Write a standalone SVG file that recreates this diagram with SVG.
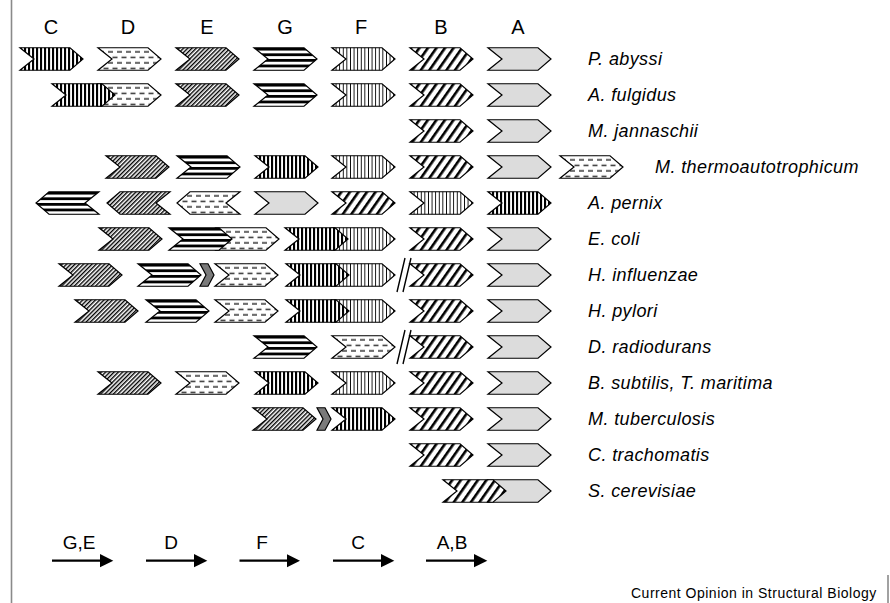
<svg xmlns="http://www.w3.org/2000/svg" xmlns:xlink="http://www.w3.org/1999/xlink" width="890" height="603" viewBox="0 0 890 603">
<style>
.g{stroke:#000;stroke-width:1.2;stroke-linejoin:miter}
.pA{fill:#dcdcdc}
.pB{fill:url(#pB)}
.pC{fill:url(#pC)}
.pD{fill:url(#pD)}
.pE{fill:url(#pE)}
.pF{fill:url(#pF)}
.pG{fill:url(#pG)}
.pS{fill:#7a7a7a}
.hd{font-family:"Liberation Sans",Arial,sans-serif;font-size:20px;text-anchor:middle;fill:#000}
.sp{font-family:"Liberation Sans",Arial,sans-serif;font-size:18px;font-style:italic;letter-spacing:0.4px;fill:#000}
.lg{font-family:"Liberation Sans",Arial,sans-serif;font-size:19px;text-anchor:middle;fill:#000}
.ft{font-family:"Liberation Sans",Arial,sans-serif;font-size:14px;letter-spacing:0.5px;fill:#000}
.brk{stroke:#000;stroke-width:1.4;fill:none}
.arr{stroke:#000;stroke-width:2.2;fill:none;marker-end:url(#ah)}
.frame{stroke:#8a8a8a;stroke-width:1.6;fill:none}
</style>
<defs>
<pattern id="pB" patternUnits="userSpaceOnUse" width="7" height="10" patternTransform="rotate(35)"><rect width="7" height="10" fill="#fff"/><rect width="2.6" height="10" fill="#000"/></pattern>
<pattern id="pC" patternUnits="userSpaceOnUse" width="4" height="10"><rect width="4" height="10" fill="#fff"/><rect width="2.1" height="10" fill="#000"/></pattern>
<pattern id="pD" patternUnits="userSpaceOnUse" width="9" height="11" y="-11.25"><rect width="9" height="11" fill="#fff"/><rect x="1" y="3.4" width="5" height="1.4" fill="#222"/><rect x="5.5" y="8.9" width="5" height="1.4" fill="#222"/><rect x="-3.5" y="8.9" width="5" height="1.4" fill="#222"/></pattern>
<pattern id="pE" patternUnits="userSpaceOnUse" width="3" height="10" patternTransform="rotate(45)"><rect width="3" height="10" fill="#fff"/><rect width="1.4" height="10" fill="#000"/></pattern>
<pattern id="pF" patternUnits="userSpaceOnUse" width="3.6" height="10"><rect width="3.6" height="10" fill="#fff"/><rect width="0.9" height="10" fill="#000"/></pattern>
<pattern id="pG" patternUnits="userSpaceOnUse" width="10" height="5.6" y="-11.25"><rect width="10" height="5.6" fill="#fff"/><rect width="10" height="2.8" fill="#000"/></pattern>
<path id="fwd" d="M0,-11.25 H50 L63,0 L50,11.25 H0 L14,0 Z"/>
<path id="rev" d="M13,-11.25 H63 L49,0 L63,11.25 H13 L0,0 Z"/>
<path id="sml" d="M0,-11.25 H8 L14,0 L8,11.25 H0 L6,0 Z"/>
<marker id="ah" markerUnits="userSpaceOnUse" markerWidth="14" markerHeight="14" refX="3.5" refY="7" orient="auto"><path d="M0,0.3 L13.5,7 L0,13.7 Z" fill="#000"/></marker>
</defs>
<rect width="890" height="603" fill="#fff"/>
<g id="frame"><line class="frame" x1="11.5" y1="0" x2="11.5" y2="603"/><line class="frame" x1="888" y1="575" x2="888" y2="603"/></g>
<g id="headers">
<text class="hd" x="51" y="34">C</text><text class="hd" x="128" y="34">D</text><text class="hd" x="207" y="34">E</text><text class="hd" x="285" y="34">G</text><text class="hd" x="361" y="34">F</text><text class="hd" x="441" y="34">B</text><text class="hd" x="518" y="34">A</text>
</g>
<g id="row1">
<use id="r1C" class="g pC" href="#fwd" x="20" y="59"/><use id="r1D" class="g pD" href="#fwd" x="98" y="59"/><use id="r1E" class="g pE" href="#fwd" x="176" y="59"/><use id="r1G" class="g pG" href="#fwd" x="254" y="59"/><use id="r1F" class="g pF" href="#fwd" x="332" y="59"/><use id="r1B" class="g pB" href="#fwd" x="410" y="59"/><use id="r1A" class="g pA" href="#fwd" x="488" y="59"/>
<text class="sp" x="588" y="65">P. abyssi</text></g>
<g id="row2">
<use id="r2D" class="g pD" href="#fwd" x="98" y="95"/><use id="r2C" class="g pC" href="#fwd" x="52" y="95"/><use id="r2E" class="g pE" href="#fwd" x="176" y="95"/><use id="r2G" class="g pG" href="#fwd" x="254" y="95"/><use id="r2F" class="g pF" href="#fwd" x="332" y="95"/><use id="r2B" class="g pB" href="#fwd" x="410" y="95"/><use id="r2A" class="g pA" href="#fwd" x="488" y="95"/>
<text class="sp" x="588" y="101">A. fulgidus</text></g>
<g id="row3">
<use id="r3B" class="g pB" href="#fwd" x="410" y="131"/><use id="r3A" class="g pA" href="#fwd" x="488" y="131"/>
<text class="sp" x="588" y="137">M. jannaschii</text></g>
<g id="row4">
<use id="r4E" class="g pE" href="#fwd" x="106" y="167"/><use id="r4G" class="g pG" href="#fwd" x="177" y="167"/><use id="r4C" class="g pC" href="#fwd" x="255" y="167"/><use id="r4F" class="g pF" href="#fwd" x="332" y="167"/><use id="r4B" class="g pB" href="#fwd" x="410" y="167"/><use id="r4A" class="g pA" href="#fwd" x="488" y="167"/><use id="r4D" class="g pD" href="#fwd" x="560" y="167"/>
<text class="sp" x="655" y="173">M. thermoautotrophicum</text></g>
<g id="row5">
<use id="r5G" class="g pG" href="#rev" x="36" y="203"/><use id="r5E" class="g pE" href="#rev" x="107" y="203"/><use id="r5D" class="g pD" href="#rev" x="177" y="203"/><use id="r5A" class="g pA" href="#fwd" x="255" y="203"/><use id="r5B" class="g pB" href="#fwd" x="332" y="203"/><use id="r5F" class="g pF" href="#fwd" x="410" y="203"/><use id="r5C" class="g pC" href="#fwd" x="488" y="203"/>
<text class="sp" x="588" y="209">A. pernix</text></g>
<g id="row6">
<use id="r6E" class="g pE" href="#fwd" x="99" y="239"/><use id="r6D" class="g pD" href="#fwd" x="216" y="239"/><use id="r6G" class="g pG" href="#fwd" x="169" y="239"/><use id="r6F" class="g pF" href="#fwd" x="332" y="239"/><use id="r6C" class="g pC" href="#fwd" x="285" y="239"/><use id="r6B" class="g pB" href="#fwd" x="410" y="239"/><use id="r6A" class="g pA" href="#fwd" x="488" y="239"/>
<text class="sp" x="588" y="245">E. coli</text></g>
<g id="row7">
<use id="r7E" class="g pE" href="#fwd" x="59" y="275"/><use id="r7G" class="g pG" href="#fwd" x="138" y="275"/><use id="r7S" class="g pS" href="#sml" x="200" y="275"/><use id="r7D" class="g pD" href="#fwd" x="215" y="275"/><use id="r7F" class="g pF" href="#fwd" x="332" y="275"/><use id="r7C" class="g pC" href="#fwd" x="286" y="275"/><use id="r7B" class="g pB" href="#fwd" x="410" y="275"/><use id="r7A" class="g pA" href="#fwd" x="488" y="275"/>
<path class="brk" d="M397,292 L405,258 M403,292 L411,258"/>
<text class="sp" x="588" y="281">H. influenzae</text></g>
<g id="row8">
<use id="r8E" class="g pE" href="#fwd" x="75" y="311"/><use id="r8G" class="g pG" href="#fwd" x="146" y="311"/><use id="r8D" class="g pD" href="#fwd" x="215" y="311"/><use id="r8F" class="g pF" href="#fwd" x="332" y="311"/><use id="r8C" class="g pC" href="#fwd" x="286" y="311"/><use id="r8B" class="g pB" href="#fwd" x="410" y="311"/><use id="r8A" class="g pA" href="#fwd" x="488" y="311"/>
<text class="sp" x="588" y="317">H. pylori</text></g>
<g id="row9">
<use id="r9G" class="g pG" href="#fwd" x="254" y="347"/><use id="r9D" class="g pD" href="#fwd" x="332" y="347"/><use id="r9B" class="g pB" href="#fwd" x="410" y="347"/><use id="r9A" class="g pA" href="#fwd" x="488" y="347"/>
<path class="brk" d="M397,364 L405,330 M403,364 L411,330"/>
<text class="sp" x="588" y="353">D. radiodurans</text></g>
<g id="row10">
<use id="r10E" class="g pE" href="#fwd" x="98" y="383"/><use id="r10D" class="g pD" href="#fwd" x="176" y="383"/><use id="r10C" class="g pC" href="#fwd" x="255" y="383"/><use id="r10F" class="g pF" href="#fwd" x="332" y="383"/><use id="r10B" class="g pB" href="#fwd" x="410" y="383"/><use id="r10A" class="g pA" href="#fwd" x="488" y="383"/>
<text class="sp" x="588" y="389">B. subtilis, T. maritima</text></g>
<g id="row11">
<use id="r11E" class="g pE" href="#fwd" x="253" y="419"/><use id="r11S" class="g pS" href="#sml" x="317" y="419"/><use id="r11C" class="g pC" href="#fwd" x="332" y="419"/><use id="r11B" class="g pB" href="#fwd" x="410" y="419"/><use id="r11A" class="g pA" href="#fwd" x="488" y="419"/>
<text class="sp" x="588" y="425">M. tuberculosis</text></g>
<g id="row12">
<use id="r12B" class="g pB" href="#fwd" x="410" y="455"/><use id="r12A" class="g pA" href="#fwd" x="488" y="455"/>
<text class="sp" x="588" y="461">C. trachomatis</text></g>
<g id="row13">
<use id="r13A" class="g pA" href="#fwd" x="488" y="491"/><use id="r13B" class="g pB" href="#fwd" x="443" y="491"/>
<text class="sp" x="588" y="497">S. cerevisiae</text></g>
<g id="connectors">
<line class="arr" x1="52" y1="560.7" x2="103.3" y2="560.7"/>
<line class="arr" x1="146" y1="560.7" x2="197.3" y2="560.7"/>
<line class="arr" x1="239.5" y1="560.7" x2="290" y2="560.7"/>
<line class="arr" x1="333" y1="560.7" x2="384.3" y2="560.7"/>
<line class="arr" x1="426" y1="560.7" x2="477.3" y2="560.7"/>
</g>
<g id="legend-labels">
<text class="lg" x="79" y="549">G,E</text><text class="lg" x="171" y="549">D</text><text class="lg" x="262" y="549">F</text><text class="lg" x="358" y="549">C</text><text class="lg" x="452" y="549">A,B</text>
</g>
<text class="ft" x="631" y="598">Current Opinion in Structural Biology</text>
</svg>
